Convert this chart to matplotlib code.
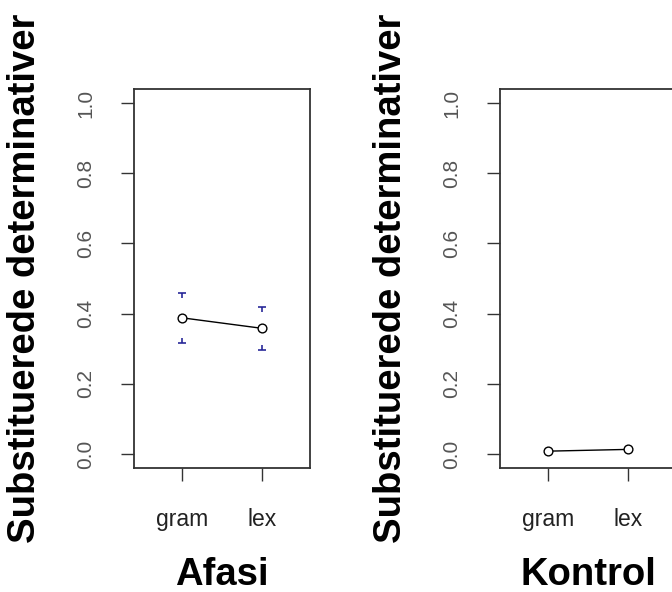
import matplotlib
matplotlib.use("Agg")
import matplotlib.pyplot as plt
from matplotlib.path import Path
import numpy as np

plt.rcParams['font.family'] = ['Liberation Sans', 'DejaVu Sans']

conditions = ["gram", "lex"]
groups = ["Afasi", "Kontrol"]
means = {"Afasi": [0.388, 0.358], "Kontrol": [0.008, 0.013]}
lower = {"Afasi": [0.317, 0.297], "Kontrol": [None, None]}
upper = {"Afasi": [0.460, 0.420], "Kontrol": [None, None]}
yticks = [0.0, 0.2, 0.4, 0.6, 0.8, 1.0]
ylabel = "Substituerede determinativer"

fig = plt.figure(figsize=(6.72, 5.92), dpi=100)
W, H = 672, 592
positions = [(134, 89, 310, 468), (500, 89, 676, 468)]

cap_top = Path([(-1, 0), (1, 0), (0, 0), (0, -1.2)],
               [Path.MOVETO, Path.LINETO, Path.MOVETO, Path.LINETO])
cap_bot = Path([(-1, 0), (1, 0), (0, 0), (0, 1.2)],
               [Path.MOVETO, Path.LINETO, Path.MOVETO, Path.LINETO])

for g, (l, t, r, b) in zip(groups, positions):
    ax = fig.add_axes([l / W, 1 - b / H, (r - l) / W, (b - t) / H])
    x = np.arange(1, len(conditions) + 1)
    lo = [v for v in lower[g] if v is not None]
    hi = [v for v in upper[g] if v is not None]
    if lo:
        ax.plot(x, hi, linestyle='none', marker=cap_top, markersize=6.5,
                markeredgecolor='#2a2a9a', markeredgewidth=1.2, clip_on=False)
        ax.plot(x, lo, linestyle='none', marker=cap_bot, markersize=6.5,
                markeredgecolor='#2a2a9a', markeredgewidth=1.2, clip_on=False)
    ax.plot(x, means[g], color='black', linewidth=1.0, marker='o',
            markersize=6.3, markerfacecolor='white', markeredgecolor='black',
            markeredgewidth=1.0)
    ax.set_xlim(0.4, 2.6)
    ax.set_ylim(-0.04, 1.04)
    ax.set_xticks(x)
    ax.set_xticklabels(conditions, fontsize=16.5, color='#222222')
    ax.set_yticks(yticks)
    ax.set_yticklabels([f"{v:.1f}" for v in yticks], fontsize=15,
                       color='#555555', rotation=90, va='center')
    ax.tick_params(axis='both', length=9.5, width=1.0, color='#333333')
    ax.tick_params(axis='y', pad=18.5)
    ax.tick_params(axis='x', pad=19)
    for s in ax.spines.values():
        s.set_linewidth(1.3)
        s.set_color('#333333')
    ax.set_ylabel(ylabel, fontsize=27.5, fontweight='bold', labelpad=24)
    ax.set_xlabel(g, fontsize=27.5, fontweight='bold', labelpad=19)

fig.savefig("out.png", dpi=100)
